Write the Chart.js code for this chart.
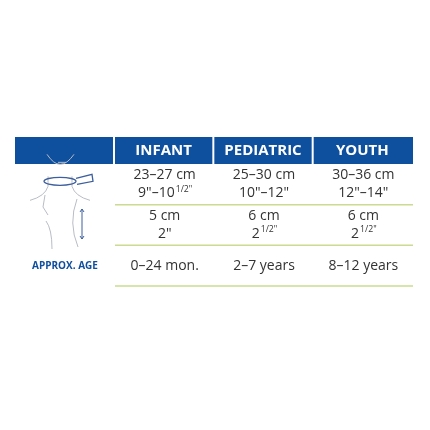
<!DOCTYPE html>
<html>
<head>
<meta charset="utf-8">
<script src="https://cdn.jsdelivr.net/npm/chart.js@4"></script>
<style>
  html, body { margin: 0; padding: 0; background: #fff; }
  #wrap { width: 430px; height: 430px; }
</style>
</head>
<body>
<div id="wrap"><canvas id="tabla"></canvas></div>
<script>
// Tabla de tallas dibujada sobre las escalas de Chart.js
const sizes = ['INFANT', 'PEDIATRIC', 'YOUTH'];
const rows = ['circ', 'height', 'age'];
const circCm = ['23–27 cm', '25–30 cm', '30–36 cm'];
const circIn = ['9"–10^1/2"', '10"–12"', '12"–14"'];
const heightCm = ['5 cm', '6 cm', '6 cm'];
const heightIn = ['2"', '2^1/2"', '2^1/2"'];
const ages = ['0–24 mon.', '2–7 years', '8–12 years'];
const ageLabel = 'APPROX. AGE';

const BLUE = '#0e4f9e';
const GREEN = '#c9dc8f';
const TEXT = '#333';
const FONT = '"Open Sans", "DejaVu Sans", sans-serif';

// texto con superíndice marcado con ^
function drawRich(ctx, str, cx, cy, size) {
    const parts = str.split('^');
    ctx.font = size + 'px ' + FONT;
    const w1 = ctx.measureText(parts[0]).width;
    let w2 = 0;
    if (parts[1]) { ctx.font = (size * 0.62) + 'px ' + FONT; w2 = ctx.measureText(parts[1]).width; }
    let x = cx - (w1 + w2) / 2;
    ctx.textAlign = 'left';
    ctx.textBaseline = 'middle';
    ctx.font = size + 'px ' + FONT;
    ctx.fillText(parts[0], x, cy);
    if (parts[1]) {
        ctx.font = (size * 0.62) + 'px ' + FONT;
        ctx.fillText(parts[1], x + w1 + 1, cy - size * 0.3);
    }
}

const tablePlugin = {
    id: 'tablePlugin',
    afterDraw(chart) {
        const ctx = chart.ctx;
        const xs = chart.scales.x;
        const ys = chart.scales.y;
        const area = chart.chartArea;
        const colW = (area.right - area.left) / sizes.length;
        const rowH = (area.bottom - area.top) / rows.length;
        ctx.save();

        // cabecera azul
        const hTop = area.top - 27;
        ctx.fillStyle = BLUE;
        ctx.fillRect(15, hTop, area.left - 15 - 2, 27);
        sizes.forEach((s, i) => {
            const cx = xs.getPixelForValue(i);
            ctx.fillStyle = BLUE;
            ctx.fillRect(cx - colW / 2, hTop, colW - (i < sizes.length - 1 ? 2 : 0), 27);
            ctx.fillStyle = '#fff';
            ctx.font = 'bold 15px ' + FONT;
            ctx.textAlign = 'center';
            ctx.textBaseline = 'middle';
            ctx.fillText(s, cx - 1, hTop + 14);
        });

        // lineas verdes
        ctx.strokeStyle = GREEN;
        ctx.lineWidth = 1.5;
        rows.forEach((r, j) => {
            const y = ys.getPixelForValue(j) + rowH / 2;
            ctx.beginPath();
            ctx.moveTo(area.left, y);
            ctx.lineTo(area.right, y);
            ctx.stroke();
        });

        // celdas
        ctx.fillStyle = TEXT;
        sizes.forEach((s, i) => {
            const cx = xs.getPixelForValue(i);
            const y0 = ys.getPixelForValue(0);
            const y1 = ys.getPixelForValue(1);
            const y2 = ys.getPixelForValue(2);
            drawRich(ctx, circCm[i], cx, y0 - 9, 14);
            drawRich(ctx, circIn[i], cx, y0 + 9, 14);
            drawRich(ctx, heightCm[i], cx, y1 - 9, 14);
            drawRich(ctx, heightIn[i], cx, y1 + 9, 14);
            drawRich(ctx, ages[i], cx, y2, 14);
        });

        // etiqueta de edad
        ctx.fillStyle = BLUE;
        ctx.font = 'bold 10px ' + FONT;
        ctx.textAlign = 'center';
        ctx.textBaseline = 'middle';
        ctx.fillText(ageLabel, 65, ys.getPixelForValue(2));

        // iconos de cuello (boceto)
        ctx.strokeStyle = '#b8bcc4';
        ctx.lineWidth = 1;
        const y0 = ys.getPixelForValue(0);
        ctx.beginPath();
        ctx.moveTo(47, y0 - 30); ctx.quadraticCurveTo(60, y0 - 10, 74, y0 - 30);
        ctx.moveTo(58, y0 - 22); ctx.lineTo(66, y0 - 22);
        ctx.moveTo(48, y0 - 8); ctx.lineTo(48, y0 + 2); ctx.quadraticCurveTo(45, y0 + 12, 30, y0 + 16);
        ctx.moveTo(72, y0 - 8); ctx.lineTo(72, y0 + 2); ctx.quadraticCurveTo(75, y0 + 12, 90, y0 + 16);
        ctx.stroke();
        ctx.strokeStyle = '#3d5f9e';
        ctx.lineWidth = 1.3;
        ctx.beginPath();
        ctx.ellipse(60, y0 - 3, 16, 4, 0, 0, Math.PI * 2);
        ctx.moveTo(76, y0 - 6); ctx.lineTo(92, y0 - 10); ctx.lineTo(93, y0 - 3); ctx.lineTo(77, y0);
        ctx.stroke();
        const y1 = ys.getPixelForValue(1);
        ctx.strokeStyle = '#b8bcc4';
        ctx.lineWidth = 1;
        ctx.beginPath();
        ctx.moveTo(45, y1 - 30); ctx.lineTo(43, y1 - 18); ctx.lineTo(48, y1 - 10);
        ctx.moveTo(46, y1 - 4); ctx.quadraticCurveTo(52, y1 + 4, 52, y1 + 24);
        ctx.moveTo(77, y1 - 26); ctx.quadraticCurveTo(68, y1 - 2, 78, y1 + 22);
        ctx.stroke();
        ctx.strokeStyle = '#3d5f9e';
        ctx.beginPath();
        ctx.moveTo(82, y1 - 16); ctx.lineTo(82, y1 + 14);
        ctx.moveTo(80, y1 - 13); ctx.lineTo(82, y1 - 16); ctx.lineTo(84, y1 - 13);
        ctx.moveTo(80, y1 + 11); ctx.lineTo(82, y1 + 14); ctx.lineTo(84, y1 + 11);
        ctx.stroke();
        ctx.restore();
    }
};

new Chart(document.getElementById('tabla'), {
    type: 'bar',
    data: {
        labels: sizes,
        datasets: [{ data: [null, null, null] }]
    },
    options: {
        responsive: true,
        maintainAspectRatio: false,
        animation: false,
        layout: { padding: { left: 115, right: 17, top: 164, bottom: 144 } },
        plugins: { legend: { display: false }, tooltip: { enabled: false } },
        scales: {
            x: { type: 'category', labels: sizes, display: false },
            y: { type: 'category', labels: rows, display: false, offset: true }
        }
    },
    plugins: [tablePlugin]
});
</script>
</body>
</html>
